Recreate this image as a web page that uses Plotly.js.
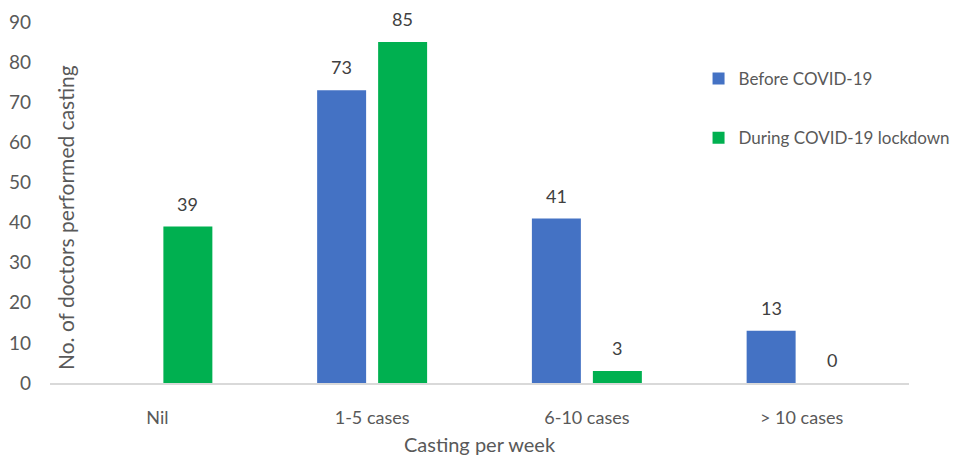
<!DOCTYPE html>
<html><head><meta charset="utf-8">
<script src="https://cdn.plot.ly/plotly-3.0.1.min.js"></script>
<style>html,body{margin:0;padding:0;background:#fff}#chart{width:960px;height:456px}</style>
</head><body><div id="chart"></div>
<script>
const categories = ["Nil", "1-5 cases", "6-10 cases", "> 10 cases"];
const beforeCovid = [null, 73, 41, 13];
const duringLockdown = [39, 85, 3, 0];
const seriesNames = ["Before COVID-19", "During COVID-19 lockdown"];
const yTicks = [0, 10, 20, 30, 40, 50, 60, 70, 80, 90];

const FONT = "Lato, 'Open Sans', sans-serif";
const traces = [
  {type: 'bar', x: categories, y: beforeCovid, name: seriesNames[0], marker: {color: '#4472C4'}, legendgroup: 'a', hoverinfo: 'none'},
  {type: 'bar', x: categories, y: duringLockdown, name: seriesNames[1], marker: {color: '#00B050'}, legendgroup: 'b', hoverinfo: 'none'}
];

const annotations = [];
[[beforeCovid, -30.5], [duringLockdown, 30.5]].forEach(([vals, xs]) => {
  vals.forEach((v, i) => {
    if (v === null) return;
    annotations.push({x: categories[i], y: v, xref: 'x', yref: 'y', text: String(v), showarrow: false,
      xshift: xs, yshift: 23, font: {family: FONT, size: 18, color: '#404040'}});
  });
});
annotations.push({xref: 'paper', yref: 'paper', x: 0.0175, y: 0.457, xanchor: 'center', yanchor: 'middle',
  text: 'No. of doctors performed casting',
  textangle: -90, showarrow: false, font: {family: FONT, size: 21, color: '#595959'}});

const layout = {
  width: 960, height: 456,
  margin: {l: 50, r: 51, t: 22, b: 73, autoexpand: false},
  paper_bgcolor: '#fff', plot_bgcolor: '#fff',
  barmode: 'group', bargap: 0.432, bargroupgap: 0.197,
  font: {family: FONT, color: '#595959'},
  showlegend: true,
  legend: {x: 0.755, y: 0.892, xanchor: 'left', yanchor: 'top', traceorder: 'grouped', tracegroupgap: 34,
    font: {family: FONT, size: 17, color: '#595959'}, itemwidth: 30},
  xaxis: {type: 'category', showline: true, linecolor: '#D9D9D9', linewidth: 1.5, ticks: '', showgrid: false,
    tickfont: {family: FONT, size: 18, color: '#595959'}, ticklabelstandoff: 18,
    title: {text: 'Casting per week', font: {family: FONT, size: 20, color: '#595959'}, standoff: 12}},
  yaxis: {range: [0, 90], tickvals: yTicks, showgrid: false, zeroline: false, showline: false, ticks: '',
    tickfont: {family: FONT, size: 19, color: '#595959'}, ticklabelstandoff: 18},
  annotations: annotations
};
Plotly.newPlot('chart', traces, layout, {staticPlot: true});
</script></body></html>
